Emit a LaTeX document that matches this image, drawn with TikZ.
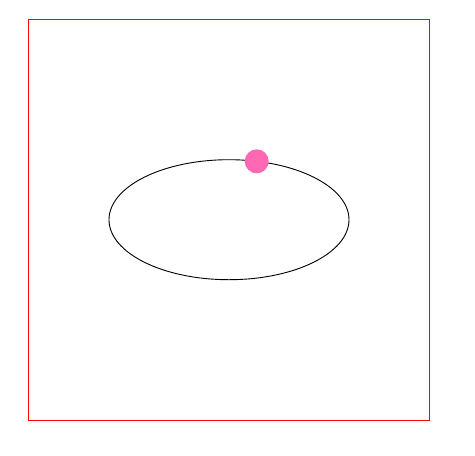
\documentclass[tikz,border=0pt]{standalone}
\usepackage{tikz}
\usetikzlibrary{calc}
\definecolor{hotpink}{HTML}{FF69B4}
\begin{document}
\begin{tikzpicture}[x=1pt,y=-1pt,
  frame/.style={draw=red,line width=1pt},
  orbit/.style={draw=black,line width=0.9pt},
  planet/.style={fill=hotpink}]
\useasboundingbox (0,0) rectangle (475,456);
\draw[frame] (28.5,19.5) rectangle (429,420);
\coordinate (c) at (229,219.7);
\draw[orbit] (c) ellipse [x radius=120, y radius=60];
\coordinate (p) at ($(c)+(27.7,-58.4)$);
\fill[planet] (p) circle (12);
\end{tikzpicture}
\end{document}
